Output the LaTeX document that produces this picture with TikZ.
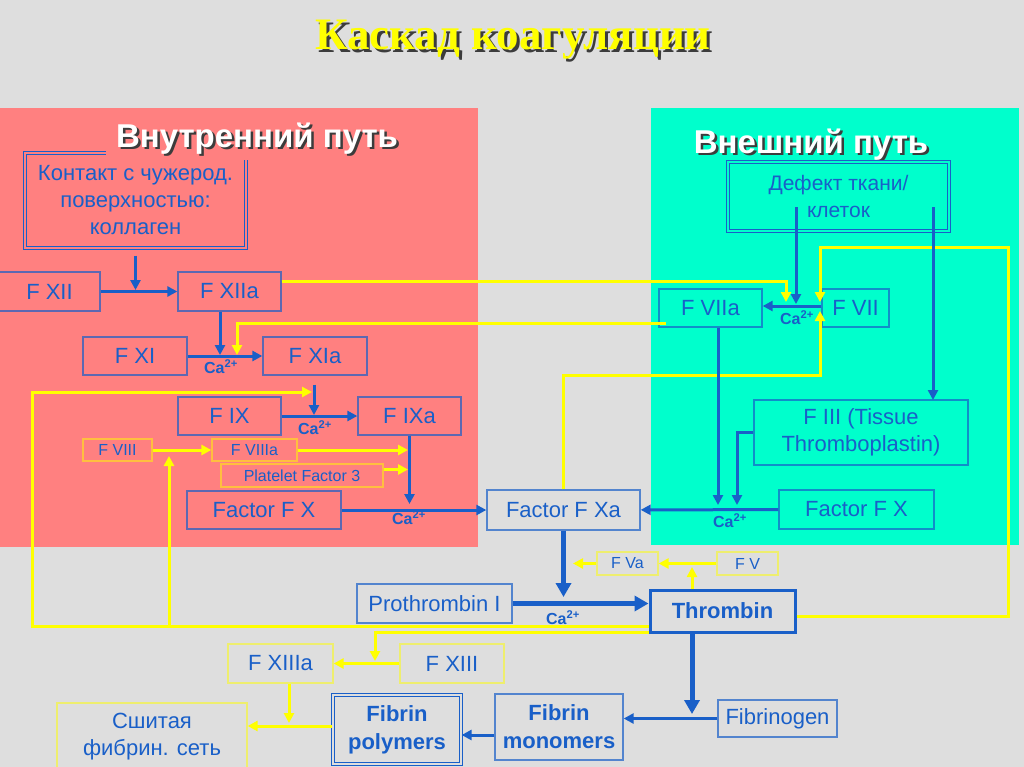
\documentclass[tikz,border=0pt]{standalone}
\usepackage{fontspec}
\setmainfont{Liberation Sans}
\newfontfamily\titlefont{Liberation Serif}
\usetikzlibrary{arrows.meta}
\definecolor{bg}{RGB}{222,222,222}
\definecolor{redp}{RGB}{255,128,128}
\definecolor{cyanp}{RGB}{0,255,204}
\definecolor{bl}{RGB}{25,95,200}
\definecolor{yl}{RGB}{255,255,0}
\definecolor{shd}{RGB}{60,60,60}
\begin{document}
\begin{tikzpicture}[x=1pt,y=-1pt,
 box/.style={draw=bl, draw opacity=0.7, line width=1.3pt, text=bl, inner sep=0pt, align=center, font=\fontsize{22}{26}\selectfont},
 ybox/.style={draw=yl, draw opacity=0.5, line width=1.3pt, text=bl, inner sep=0pt, align=center, font=\fontsize{16}{19}\selectfont},
 dbox/.style={draw=bl, line width=1.2pt, double distance=2.2pt, text=bl, inner sep=0pt, align=center},
 barrow/.style={draw=bl, line width=3pt, -{Triangle[length=10pt,width=10pt]}},
 bthick/.style={draw=bl, line width=5pt, -{Triangle[length=14pt,width=15pt]}},
 yarrow/.style={draw=yl, line width=3pt, -{Triangle[length=10pt,width=10pt]}},
 ca/.style={text=bl, font=\bfseries\fontsize{16}{18}\selectfont, inner sep=0pt},
 head/.style={font=\bfseries\fontsize{33}{36}\selectfont, inner sep=0pt, anchor=base},
 ttl/.style={font=\titlefont\bfseries\fontsize{45}{50}\selectfont, inner sep=0pt, anchor=base},
]
\useasboundingbox (0,0) rectangle (1024,767);
\fill[bg] (0,0) rectangle (1024,767);
\fill[redp] (0,108) rectangle (478,547);
\fill[cyanp] (651,108) rectangle (1019,545);

% title
\node[ttl, text=shd] at (516,53) {Каскад коагуляции};
\node[ttl, text=yl] (title) at (513,50) {Каскад коагуляции};

% contact box and left heading
\node[dbox, double=redp, minimum width=221, minimum height=95, font=\fontsize{22}{27}\selectfont] (contact) at (135.5,200.5) {Контакт с чужерод.\\поверхностью:\\коллаген};
\node[fill=redp, inner sep=0pt, minimum width=304, minimum height=46] (tinbg) at (258,137) {};
\node[head, text=shd] at (259.5,150) {Внутренний путь};
\node[head, text=white] (tin) at (257,148) {Внутренний путь};

% right heading and defect box
\node[head, text=shd] at (813.5,156) {Внешний путь};
\node[head, text=white] (tout) at (811,154) {Внешний путь};
\node[dbox, double=cyanp, minimum width=221, minimum height=69, font=\fontsize{21}{27}\selectfont] (def) at (838.5,196.5) {Дефект ткани/\\клеток};

% boxes
\node[box, minimum width=101, minimum height=39] (fxii) at (49.5,291.5) {F XII};
\node[box, minimum width=103, minimum height=39] (fxiia) at (229.5,291.5) {F XIIa};
\node[box, minimum width=104, minimum height=38] (fxi) at (135,356) {F XI};
\node[box, minimum width=104, minimum height=38] (fxia) at (315,356) {F XIa};
\node[box, minimum width=103, minimum height=38] (fix) at (229.5,416) {F IX};
\node[box, minimum width=103, minimum height=38] (fixa) at (409.5,416) {F IXa};
\node[ybox, minimum width=69, minimum height=22] (fviii) at (117.5,450) {F VIII};
\node[ybox, minimum width=85, minimum height=22] (fviiia) at (254.5,450) {F VIIIa};
\node[ybox, minimum width=162, minimum height=23] (pf) at (302,475.5) {Platelet Factor 3};
\node[box, minimum width=154, minimum height=38] (fxl) at (264,510) {Factor F X};
\node[box, minimum width=153, minimum height=40] (fxa) at (563.5,510) {Factor F Xa};
\node[box, minimum width=155, minimum height=39] (fxr) at (856.5,509.5) {Factor F X};
\node[box, minimum width=214, minimum height=65, font=\fontsize{22}{27}\selectfont] (fiii) at (861,432.5) {F III (Tissue\\Thromboplastin)};
\node[box, minimum width=103, minimum height=38] (fviia) at (710.5,308) {F VIIa};
\node[box, minimum width=67, minimum height=38] (fvii) at (855.5,308) {F VII};
\node[ybox, minimum width=61, minimum height=23] (fva) at (627.5,563.5) {F Va};
\node[ybox, minimum width=61, minimum height=23] (fv) at (747.5,563.5) {F V};
\node[box, minimum width=155, minimum height=39] (proth) at (434.5,603.5) {Prothrombin I};
\node[box, draw opacity=1, line width=3pt, font=\bfseries\fontsize{22}{26}\selectfont, minimum width=145, minimum height=42] (thr) at (722.5,611) {Thrombin};
\node[ybox, font=\fontsize{22}{26}\selectfont, minimum width=105, minimum height=39] (fxiiia) at (280.5,663.5) {F XIIIa};
\node[ybox, font=\fontsize{22}{26}\selectfont, minimum width=104, minimum height=39] (fxiii) at (452,663.5) {F XIII};
\node[ybox, font=\fontsize{22}{27}\selectfont, minimum width=190, minimum height=67] (sew) at (152,736.5) {Сшитая\\фибрин. сеть};
\node[dbox, double=bg, font=\bfseries\fontsize{22}{28}\selectfont, minimum width=128, minimum height=69] (fpoly) at (397,729.5) {Fibrin\\polymers};
\node[box, font=\bfseries\fontsize{22}{28}\selectfont, minimum width=128, minimum height=66] (fmono) at (559,727) {Fibrin\\monomers};
\node[box, minimum width=119, minimum height=37] (fgen) at (777.5,718.5) {Fibrinogen};

% Ca labels
\node[ca] (ca1) at (221,367) {Ca\textsuperscript{2+}};
\node[ca] (ca2) at (315,428) {Ca\textsuperscript{2+}};
\node[ca] (ca3) at (409,518) {Ca\textsuperscript{2+}};
\node[ca] (ca4) at (797,318) {Ca\textsuperscript{2+}};
\node[ca] (ca5) at (730,521) {Ca\textsuperscript{2+}};
\node[ca] (ca6) at (563,618) {Ca\textsuperscript{2+}};

% junction coordinates
\coordinate (j1) at (135.5,290);
\coordinate (j2) at (220,355);
\coordinate (j3) at (314,415);
\coordinate (j4) at (409.5,504);
\coordinate (j5) at (718,505);
\coordinate (j6) at (737,505);
\coordinate (j7) at (796,304);
\coordinate (j8) at (933,400);
\coordinate (j9) at (563.5,597);
\coordinate (j10) at (692,714);
\coordinate (y1) at (786,302);
\coordinate (y2) at (237,355);
\coordinate (y3a) at (32,392);
\coordinate (y3) at (312,392);
\coordinate (y4a) at (169,626);
\coordinate (y4) at (169,456);
\coordinate (y5) at (375,661);
\coordinate (y8) at (408,452);
\coordinate (y10a) at (1008,247);
\coordinate (y10) at (820,302);
\coordinate (y11a) at (820,375);
\coordinate (y11) at (820,311);
\coordinate (y13) at (692,567);
\coordinate (y14) at (573,563.5);
\coordinate (y15) at (289,723);

% yellow connectors
\draw[yarrow] ([yshift=10.5pt]fxiia.east) -| (y1);
\draw[yarrow] ([xshift=8pt,yshift=-15pt]fviia.west) -| (y2);
\draw[yarrow] ([yshift=-15pt]thr.west) -| (y3a) -- (y3);
\draw[yarrow] (y4a) -- (y4);
\draw[yarrow] ([yshift=-21pt]thr.west) -| (y5);
\draw[yarrow] (fxiii) -- (fxiiia);
\draw[yarrow] (fviii) -- (fviiia);
\draw[yarrow] (fviiia.east) -- (fviiia.east -| y8);
\draw[yarrow] ([yshift=6pt]pf.east) -- ([yshift=6pt]pf.east -| y8);
\draw[yarrow] ([yshift=-5pt]thr.east) -| (y10a) -| (y10);
\draw[yarrow] (fxa.north) |- (y11a) -- (y11);
\draw[yarrow] (fv) -- (fva);
\draw[yarrow] (thr.north -| y13) -- (y13);
\draw[yarrow] (fva) -- (y14);
\draw[yarrow] (fxiiia.south -| y15) -- (y15);
\draw[yarrow] ([yshift=3.5pt]fpoly.west) -- ([yshift=3.5pt]fpoly.west -| sew.east);

% blue connectors
\draw[barrow, shorten <=7pt] (contact.south) -- (j1);
\draw[barrow] (fxii) -- (fxiia);
\draw[barrow] (fxiia.south -| j2) -- (j2);
\draw[barrow] (fxi) -- (fxia);
\draw[barrow, shorten <=9pt] (fxia.south -| j3) -- (j3);
\draw[barrow] (fix) -- (fixa);
\draw[barrow] (fixa.south -| j4) -- (j4);
\draw[barrow] (fxl) -- (fxa);
\draw[barrow] (fxr) -- (fxa);
\draw[barrow] (fviia.south -| j5) -- (j5);
\draw[barrow] (fiii.west) -| (j6);
\draw[barrow] ([yshift=2pt]fvii.west) -- ([yshift=2pt]fvii.west -| fviia.east);
\draw[barrow, shorten <=11pt] (def.center -| j7) -- (j7);
\draw[barrow, shorten <=11pt] (def.center -| j8) -- (j8);
\draw[bthick] (fxa.south) -- (j9);
\draw[bthick] (proth.east) -- (proth.east -| thr.west);
\draw[bthick] (thr.south -| j10) -- (j10);
\draw[barrow] (fgen.west) -- (fgen.west -| fmono.east);
\draw[barrow] ([yshift=-8pt]fmono.west) -- ([yshift=-8pt]fmono.west -| fpoly.east);
\end{tikzpicture}
\end{document}
